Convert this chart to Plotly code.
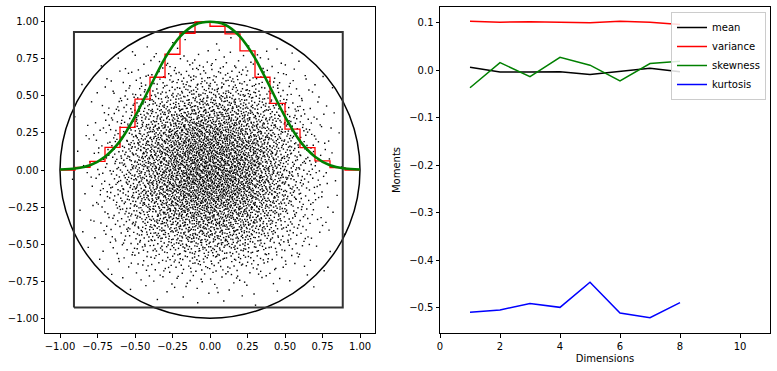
import numpy as np
import plotly.graph_objects as go

# ---------------- data ----------------
hist_edges = [-1.0, -0.9, -0.8, -0.7, -0.6, -0.5, -0.4, -0.3, -0.2, -0.1, 0.0,
              0.1, 0.2, 0.3, 0.4, 0.5, 0.6, 0.7, 0.8, 0.9, 1.0]
red_hist = [0.0, 0.018, 0.058, 0.153, 0.287, 0.478, 0.626, 0.781, 0.923, 1.0,
            0.970, 0.919, 0.804, 0.626, 0.45, 0.276, 0.151, 0.061, 0.016, 0.0]

green_x = [-1.0, -0.9, -0.8, -0.7, -0.6, -0.5, -0.4, -0.3, -0.2, -0.1, 0.0,
           0.1, 0.2, 0.3, 0.4, 0.5, 0.6, 0.7, 0.8, 0.9, 1.0]
green_y = [0.003, 0.01, 0.032, 0.09, 0.195, 0.36, 0.56, 0.755, 0.90, 0.98, 1.0,
           0.98, 0.90, 0.755, 0.56, 0.36, 0.195, 0.09, 0.032, 0.01, 0.003]

circle_radius = 1.0
box_x = [-0.907, 0.885]
box_y = [-0.928, 0.932]
n_points = 5000  # estimated size of the point cloud

left_ticks = [-1.0, -0.75, -0.5, -0.25, 0.0, 0.25, 0.5, 0.75, 1.0]
left_ticktext = ["\u22121.00", "\u22120.75", "\u22120.50", "\u22120.25", "0.00",
                 "0.25", "0.50", "0.75", "1.00"]

dims = [1, 2, 3, 4, 5, 6, 7, 8]
mean = [0.006, -0.004, -0.004, -0.003, -0.009, -0.002, 0.004, -0.003]
variance = [0.103, 0.101, 0.102, 0.1015, 0.100, 0.103, 0.101, 0.096]
skewness = [-0.037, 0.016, -0.0135, 0.027, 0.0105, -0.0225, 0.014, 0.019]
kurtosis = [-0.5095, -0.5046, -0.491, -0.499, -0.446, -0.511, -0.521, -0.489]

right_xticks = [0, 2, 4, 6, 8, 10]
right_yticks = [0.1, 0.0, -0.1, -0.2, -0.3, -0.4, -0.5]
right_yticktext = ["0.1", "0.0", "\u22120.1", "\u22120.2", "\u22120.3", "\u22120.4", "\u22120.5"]


# ---------------- point cloud laid out from the read histogram ----------------
# Smooth marginal density through the bin centres, inverted via its CDF and
# applied to a deterministic Halton (2, 3) sequence.
def radical_inverse(i, base):
    f, r = 1.0, 0.0
    while i > 0:
        f /= base
        r += f * (i % base)
        i //= base
    return r


centres = [(a + b) / 2 for a, b in zip(hist_edges[:-1], hist_edges[1:])]
fine = np.linspace(hist_edges[0], hist_edges[-1], 4001)
dens = np.interp(fine, centres, red_hist, left=0.0, right=0.0)
cdf = np.cumsum(dens)
cdf = (cdf - cdf[0]) / (cdf[-1] - cdf[0])
uu = np.array([radical_inverse(i + 1, 2) for i in range(n_points)])
vv = np.array([radical_inverse(i + 1, 3) for i in range(n_points)])
px = np.interp(uu, cdf, fine)
py = np.interp(vv, cdf, fine)

# ---------------- figure ----------------
W, H = 777, 371
fig = go.Figure()

fig.add_trace(go.Scatter(x=px, y=py, mode="markers", xaxis="x", yaxis="y",
                         marker=dict(symbol="square", size=1.4, color="black",
                                     line=dict(width=0)),
                         showlegend=False, hoverinfo="skip"))

fig.add_trace(go.Scatter(x=[box_x[0], box_x[1], box_x[1], box_x[0], box_x[0]],
                         y=[box_y[0], box_y[0], box_y[1], box_y[1], box_y[0]],
                         mode="lines", line=dict(color="#333333", width=2),
                         xaxis="x", yaxis="y", showlegend=False))

fig.add_trace(go.Scatter(x=hist_edges, y=red_hist + [red_hist[-1]], mode="lines",
                         line=dict(color="red", width=1.3, shape="hv"),
                         xaxis="x", yaxis="y", showlegend=False))

fig.add_trace(go.Scatter(x=green_x, y=green_y, mode="lines",
                         line=dict(color="green", width=2.6, shape="spline", smoothing=0.8),
                         xaxis="x", yaxis="y", showlegend=False))

for name, vals, col in [("mean", mean, "black"), ("variance", variance, "red"),
                        ("skewness", skewness, "green"), ("kurtosis", kurtosis, "blue")]:
    fig.add_trace(go.Scatter(x=dims, y=vals, mode="lines", name=name,
                             line=dict(color=col, width=1.5),
                             xaxis="x2", yaxis="y2"))

fig.add_shape(type="circle", xref="x", yref="y",
              x0=-circle_radius, y0=-circle_radius, x1=circle_radius, y1=circle_radius,
              line=dict(color="black", width=1.5), layer="below")

ydom = [1 - 333 / H, 1 - 7 / H]
axis_common = dict(showline=True, linecolor="black", linewidth=1, mirror=True,
                   ticks="outside", ticklen=3.5, tickwidth=0.8, tickcolor="black",
                   showgrid=False, zeroline=False, automargin=False,
                   tickfont=dict(family="DejaVu Sans", size=10, color="black"))

fig.update_layout(
    width=W, height=H,
    margin=dict(l=0, r=0, t=0, b=0, pad=0),
    paper_bgcolor="white", plot_bgcolor="white",
    font=dict(family="DejaVu Sans", size=10, color="black"),
    xaxis=dict(domain=[45 / W, 375 / W], range=[-1.1, 1.1], anchor="y",
               tickvals=left_ticks, ticktext=left_ticktext, **axis_common),
    yaxis=dict(domain=ydom, range=[-1.1, 1.1], anchor="x",
               tickvals=left_ticks, ticktext=left_ticktext, **axis_common),
    xaxis2=dict(domain=[440 / W, 770 / W], range=[0, 11], anchor="y2",
                tickvals=right_xticks, ticktext=[str(t) for t in right_xticks],
                title=dict(text="Dimensions", font=dict(size=10), standoff=4),
                **axis_common),
    yaxis2=dict(domain=ydom, range=[-0.553, 0.133], anchor="x2",
                tickvals=right_yticks, ticktext=right_yticktext,
                title=dict(text="Moments", font=dict(size=10), standoff=6),
                **axis_common),
    legend=dict(x=766 / W, y=1 - 12 / H, xanchor="right", yanchor="top",
                bgcolor="rgba(255,255,255,0.85)", bordercolor="#cccccc", borderwidth=1,
                font=dict(family="DejaVu Sans", size=10, color="black"),
                tracegroupgap=0, itemwidth=30),
)

fig.write_html("out.html", config={"displayModeBar": False},
               post_script="document.body.style.margin='0';document.body.style.padding='0';")
